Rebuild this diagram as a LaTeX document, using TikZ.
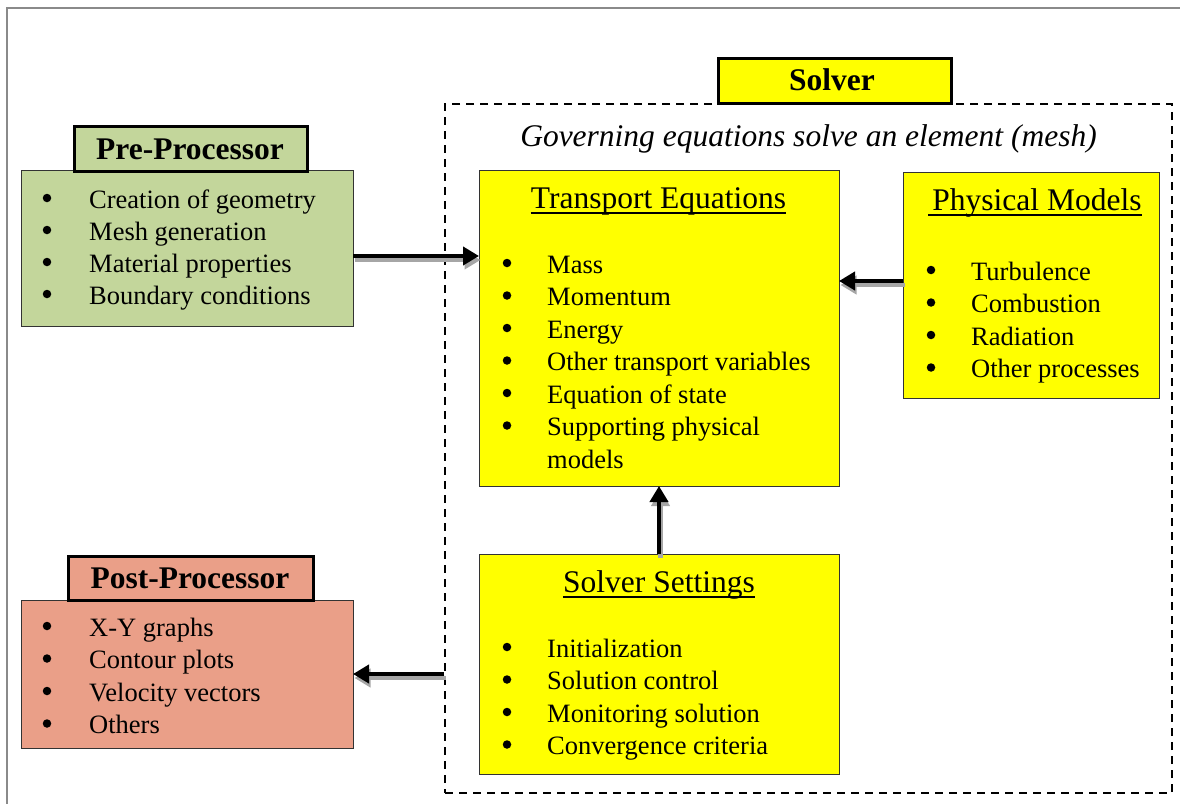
\documentclass[tikz,border=0pt]{standalone}
\usepackage{fontspec}
\setmainfont{Liberation Serif}
\usetikzlibrary{arrows.meta}
\definecolor{pregreen}{HTML}{C3D69B}
\definecolor{postred}{HTML}{EA9F88}
\definecolor{ylw}{HTML}{FFFF00}
\definecolor{framegray}{HTML}{8A8A8A}
\begin{document}
\begin{tikzpicture}[x=1pt,y=-1pt,
  box/.style={draw=black!80, line width=1pt, inner sep=0pt, outer sep=0pt},
  lbl/.style={draw=black, line width=3pt, inner sep=0pt, outer sep=0pt},
  body/.style={inner sep=0pt, anchor=base west, font=\fontsize{26.5}{32}\selectfont},
  bul/.style={circle, fill=black, inner sep=0pt, minimum size=8.5pt},
  ttl/.style={inner sep=0pt, anchor=base, font=\fontsize{31.5}{36}\selectfont},
  bttl/.style={inner sep=0pt, anchor=base, font=\fontsize{31.5}{36}\selectfont\bfseries},
  ittl/.style={inner sep=0pt, anchor=base, font=\fontsize{31.5}{36}\selectfont\itshape},
  uline/.style={line width=1.4pt},
  arr/.style={line width=4.5pt, -{Triangle[length=16pt,width=18pt]}},
  arrsh/.style={arr, draw=black!35, transform canvas={xshift=1.5pt,yshift=-4pt}},
]
\useasboundingbox (0,0) rectangle (1180,803);
\begin{scope}
\clip (0,0) rectangle (1180,803);
\draw[framegray, line width=2.5pt] (7,8) rectangle (1220,840);
\end{scope}

% solver dashed frame
\node[draw=black, line width=1.5pt, dash pattern=on 8pt off 6pt, minimum width=727pt, minimum height=689pt, inner sep=0pt] (frame) at (808.5,448.5) {};
\node[ittl] (gov) at (808.5,146) {Governing equations solve an element (mesh)};

% main boxes
\node[box, fill=pregreen, minimum width=332pt, minimum height=156pt] (pre) at (187,248) {};
\node[box, fill=postred, minimum width=332pt, minimum height=148pt] (post) at (187,674) {};
\node[box, fill=ylw, minimum width=360pt, minimum height=316pt] (trans) at (659,328) {};
\node[box, fill=ylw, minimum width=256pt, minimum height=226pt] (phys) at (1031,285) {};
\node[box, fill=ylw, minimum width=360pt, minimum height=220pt] (sett) at (659,664) {};

% label boxes
\node[lbl, fill=ylw, minimum width=233pt, minimum height=45pt] (solverlbl) at (834.5,80.5) {};
\node[bttl] (solvertxt) at (832,90) {Solver};
\node[lbl, fill=pregreen, minimum width=233pt, minimum height=45pt] (prelbl) at (190.5,148.5) {};
\node[bttl] (pretxt) at (190,159) {Pre-Processor};
\node[lbl, fill=postred, minimum width=245pt, minimum height=44pt] (postlbl) at (190.5,578) {};
\node[bttl] (posttxt) at (190,588) {Post-Processor};

% titles
\node[ttl] (ttitle) at (658.5,208) {Transport Equations};
\draw[uline] ([yshift=-5pt]ttitle.base west) -- ([yshift=-5pt]ttitle.base east);
\node[ttl] (ptitle) at (1037,210) {Physical Models};
\draw[uline] ([xshift=-4pt,yshift=-5pt]ptitle.base west) -- ([yshift=-5pt]ptitle.base east);
\node[ttl] (stitle) at (659,592) {Solver Settings};
\draw[uline] ([yshift=-5pt]stitle.base west) -- ([yshift=-5pt]stitle.base east);

% lists
\foreach \t [count=\i] in {Creation of geometry, Mesh generation, Material properties, Boundary conditions} {
  \node[bul] (preb\i) at (47,{198+32*(\i-1)}) {};
  \node[body] (prei\i) at (89,{208+32*(\i-1)}) {\t};
}
\foreach \t [count=\i] in {X-Y graphs, Contour plots, Velocity vectors, Others} {
  \node[bul] (postb\i) at (47,{626+32.5*(\i-1)}) {};
  \node[body] (posti\i) at (89,{636+32.5*(\i-1)}) {\t};
}
\foreach \t [count=\i] in {Mass, Momentum, Energy, Other transport variables, Equation of state, Supporting physical} {
  \node[bul] (trb\i) at (507,{263+32.5*(\i-1)}) {};
  \node[body] (tri\i) at (547,{273+32.5*(\i-1)}) {\t};
}
\node[body] (tri7) at (547,468) {models};
\foreach \t [count=\i] in {Turbulence, Combustion, Radiation, Other processes} {
  \node[bul] (phb\i) at (931,{270+32.5*(\i-1)}) {};
  \node[body] (phi\i) at (971,{280+32.5*(\i-1)}) {\t};
}
\foreach \t [count=\i] in {Initialization, Solution control, Monitoring solution, Convergence criteria} {
  \node[bul] (seb\i) at (507,{647+32.5*(\i-1)}) {};
  \node[body] (sei\i) at (547,{657+32.5*(\i-1)}) {\t};
}

% arrows
\coordinate (ya) at (0,256);
\coordinate (yb) at (0,281);
\coordinate (yc) at (0,674);
\draw[arrsh] (pre.east |- ya) -- (trans.west |- ya);
\draw[arr] (pre.east |- ya) -- (trans.west |- ya);
\draw[arrsh] (phys.west |- yb) -- (trans.east |- yb);
\draw[arr] (phys.west |- yb) -- (trans.east |- yb);
\draw[arrsh] (sett.north) -- (trans.south);
\draw[arr] (sett.north) -- (trans.south);
\draw[arrsh] (frame.west |- yc) -- (post.east |- yc);
\draw[arr] (frame.west |- yc) -- (post.east |- yc);
\end{tikzpicture}
\end{document}
